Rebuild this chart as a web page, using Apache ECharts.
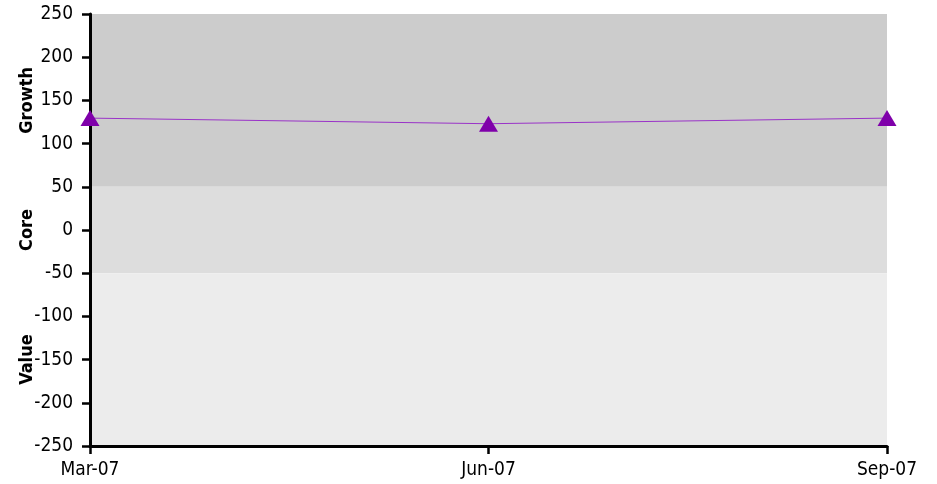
<!DOCTYPE html>
<html>
<head>
<meta charset="utf-8">
<script src="https://cdn.jsdelivr.net/npm/echarts@6/dist/echarts.min.js"></script>
<style>
  html, body { margin: 0; padding: 0; background: #fff; }
  #chart { width: 937px; height: 484px; }
</style>
</head>
<body>
<div id="chart"></div>
<script>
// quarters on the x axis
var quarters = ['Mar-07', 'Jun-07', 'Sep-07'];
// plotted values
var values = [129.5, 123, 129.5];
// style bands: name, from, to, colour
var bandNames = ['Growth', 'Core', 'Value'];
var bandFrom = [50, -50, -250];
var bandTo = [250, 50, -50];
var bandColors = ['#cccccc', '#dddddd', '#ececec'];

var bands = bandNames.map(function (n, i) {
    return [
        { name: n, yAxis: bandFrom[i], itemStyle: { color: bandColors[i] } },
        { yAxis: bandTo[i] }
    ];
});

var font = '"DejaVu Sans Condensed", "DejaVu Sans"';
var option = {
    animation: false,
    grid: { left: 90, right: 50, top: 14, bottom: 38 },
    xAxis: {
        type: 'category',
        data: quarters,
        boundaryGap: false,
        z: 5,
        axisLine: { onZero: false, lineStyle: { color: '#000', width: 3 } },
        axisTick: { length: 8, lineStyle: { color: '#000', width: 2.5 } },
        axisLabel: { color: '#000', fontFamily: font, fontSize: 19, margin: 15 },
        splitLine: { show: false }
    },
    yAxis: {
        type: 'value',
        min: -250, max: 250, interval: 50,
        z: 5,
        axisLine: { show: true, lineStyle: { color: '#000', width: 3 } },
        axisTick: { show: true, length: 8, lineStyle: { color: '#000', width: 2.5 } },
        axisLabel: { color: '#000', fontFamily: font, fontSize: 19, margin: 17 },
        splitLine: { show: false }
    },
    series: [{
        type: 'line',
        data: values,
        clip: false,
        z: 10,
        symbol: 'triangle',
        symbolSize: [19, 16],
        lineStyle: { color: '#9a33c8', width: 1 },
        itemStyle: { color: '#7f00aa' },
        markArea: {
            silent: true,
            data: bands,
            label: {
                show: true,
                position: 'left',
                distance: 63,
                rotate: 90,
                align: 'center',
                verticalAlign: 'middle',
                color: '#000',
                fontFamily: font,
                fontWeight: 'bold',
                fontSize: 18
            }
        }
    }]
};
var chart = echarts.init(document.getElementById('chart'));
chart.setOption(option, true);
</script>
</body>
</html>
